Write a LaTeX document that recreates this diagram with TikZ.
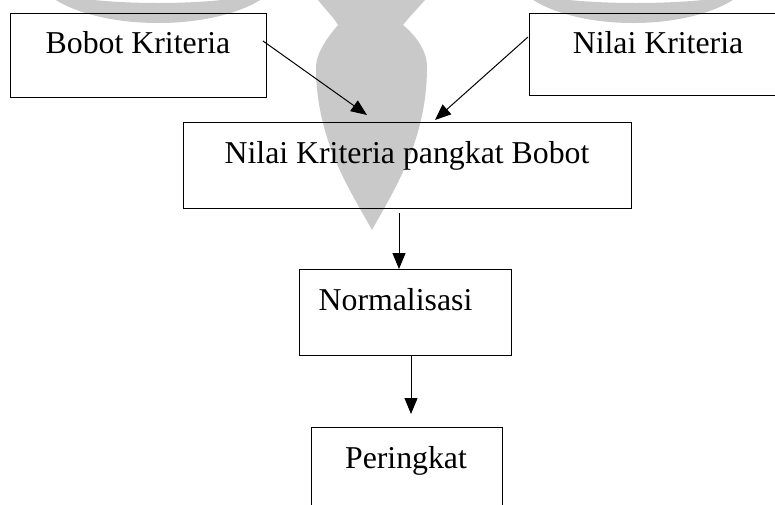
\documentclass[tikz,border=0pt]{standalone}
\usepackage{fontspec}
\setmainfont{Liberation Serif}
\usetikzlibrary{arrows.meta}
\definecolor{wm}{gray}{0.79}
\tikzset{
  box/.style={draw=black, line width=1.3pt, rectangle, inner sep=0pt, anchor=north west},
  txt/.style={font=\fontsize{31.8}{38}\selectfont, inner sep=0pt, anchor=base},
  arr/.style={draw=black, line width=1pt, -{Triangle[length=16pt,width=13pt]}}
}
\begin{document}
\begin{tikzpicture}[x=1pt,y=-1pt]
\useasboundingbox (0,0) rectangle (775,504);
\fill[white] (0,0) rectangle (775,504);
% watermark
\begin{scope}
\clip (0,0) rectangle (775,504);
\fill[wm, even odd rule] (158,-30) ellipse [x radius=124, y radius=53] (158,-20) ellipse [x radius=130, y radius=23];
\fill[wm, even odd rule] (633,-30) ellipse [x radius=121, y radius=53] (636,-20) ellipse [x radius=136, y radius=23];
\fill[wm] (318,0) .. controls (326,10) and (334,18) .. (338,25)
  .. controls (325,40) and (316,55) .. (316,67)
  .. controls (316,140) and (350,190) .. (372,230)
  .. controls (394,190) and (427,140) .. (427,67)
  .. controls (427,50) and (415,35) .. (403,25)
  .. controls (410,16) and (418,8) .. (425,0) -- cycle;
\end{scope}
% boxes
\node[box, minimum width=256pt, minimum height=84pt] (b1) at (10,13) {};
\node[box, minimum width=250pt, minimum height=82pt] (b2) at (529,13) {};
\node[box, minimum width=448pt, minimum height=86pt] (b3) at (183,122) {};
\node[box, minimum width=212.5pt, minimum height=86pt] (b4) at (298.5,269) {};
\node[box, minimum width=191pt, minimum height=90pt] (b5) at (311,427) {};
% texts
\node[txt] (t1) at (138,53) {Bobot Kriteria};
\node[txt] (t2) at (658,53) {Nilai Kriteria};
\node[txt] (t3) at (407,163) {Nilai Kriteria pangkat Bobot};
\node[txt] (t4) at (395.5,310) {Normalisasi};
\node[txt] (t5) at (406,468) {Peringkat};
% arrows
\coordinate (a1s) at (263,41);
\coordinate (a1e) at (367,115);
\coordinate (a2s) at (528,37);
\coordinate (a2e) at (435,120);
\coordinate (a3s) at (399,213);
\coordinate (a4s) at (411,355);
\coordinate (a4e) at (411,414);
\draw[arr] (a1s) -- (a1e);
\draw[arr] (a2s) -- (a2e);
\draw[arr] (a3s) -- (b4.north -| a3s);
\draw[arr] (a4s) -- (a4e);
\end{tikzpicture}
\end{document}
